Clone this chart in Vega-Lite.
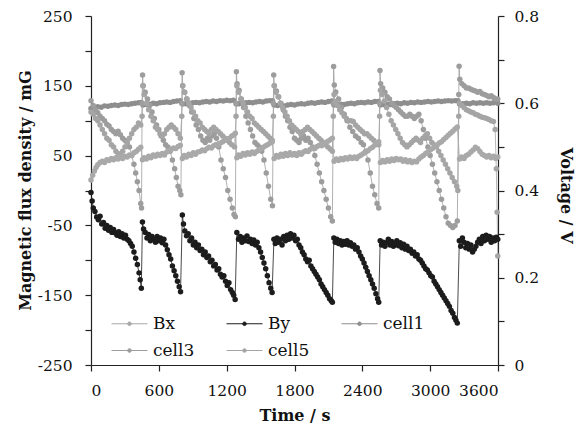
{
"$schema": "https://vega.github.io/schema/vega-lite/v6.json",
"width": 407, "height": 349,
"autosize": {"type": "none"},
"padding": {"left": 91, "top": 16, "right": 84, "bottom": 58},
"config": {
  "view": {"stroke": null},
  "font": "DejaVu Serif",
  "axis": {"grid": false, "domainColor": "#222", "tickColor": "#222", "labelColor": "#111", "titleColor": "#111",
    "labelFont": "DejaVu Serif", "titleFont": "DejaVu Serif", "labelFontSize": 15.5, "titleFontSize": 16, "titleFontWeight": "bold",
    "tickSize": 6, "domainWidth": 1.2, "tickWidth": 1.2},
  "legend": {"labelFont": "DejaVu Serif", "labelFontSize": 17, "labelColor": "#111"}
},
"datasets": {
"Bx": [{"t":0,"v":15},{"t":15,"v":22},{"t":30,"v":28},{"t":45,"v":33},{"t":60,"v":37},{"t":80,"v":40},{"t":100,"v":42},{"t":120,"v":40},{"t":140,"v":44},{"t":160,"v":43},{"t":180,"v":46},{"t":200,"v":44},{"t":220,"v":47},{"t":240,"v":45},{"t":260,"v":48},{"t":280,"v":46},{"t":300,"v":49},{"t":320,"v":48},{"t":340,"v":51},{"t":360,"v":50},{"t":380,"v":54},{"t":400,"v":56},{"t":420,"v":59},{"t":440,"v":62},
{"t":455,"v":44},{"t":470,"v":47},{"t":490,"v":45},{"t":510,"v":49},{"t":530,"v":47},{"t":550,"v":51},{"t":570,"v":49},{"t":590,"v":52},{"t":610,"v":50},{"t":630,"v":53},{"t":650,"v":51},{"t":670,"v":55},{"t":690,"v":57},{"t":710,"v":59},{"t":730,"v":61},{"t":750,"v":60},{"t":770,"v":63},{"t":790,"v":65},
{"t":808,"v":46},{"t":825,"v":50},{"t":845,"v":48},{"t":865,"v":52},{"t":885,"v":50},{"t":905,"v":54},{"t":925,"v":52},{"t":945,"v":55},{"t":965,"v":56},{"t":985,"v":58},{"t":1005,"v":57},{"t":1025,"v":60},{"t":1045,"v":62},{"t":1065,"v":61},{"t":1085,"v":64},{"t":1105,"v":66},{"t":1125,"v":65},{"t":1145,"v":68},{"t":1165,"v":70},{"t":1185,"v":72},{"t":1205,"v":74},{"t":1225,"v":75},{"t":1245,"v":78},{"t":1265,"v":80},{"t":1277,"v":82},
{"t":1290,"v":47},{"t":1305,"v":51},{"t":1325,"v":49},{"t":1345,"v":53},{"t":1365,"v":51},{"t":1385,"v":54},{"t":1405,"v":52},{"t":1425,"v":55},{"t":1445,"v":53},{"t":1465,"v":56},{"t":1485,"v":58},{"t":1505,"v":60},{"t":1525,"v":62},{"t":1545,"v":64},{"t":1565,"v":66},{"t":1585,"v":68},{"t":1603,"v":70},
{"t":1620,"v":46},{"t":1640,"v":50},{"t":1660,"v":48},{"t":1680,"v":52},{"t":1700,"v":49},{"t":1720,"v":53},{"t":1740,"v":50},{"t":1760,"v":54},{"t":1780,"v":51},{"t":1800,"v":53},{"t":1820,"v":50},{"t":1840,"v":54},{"t":1860,"v":52},{"t":1880,"v":55},{"t":1900,"v":57},{"t":1920,"v":56},{"t":1940,"v":59},{"t":1960,"v":61},{"t":1980,"v":60},{"t":2000,"v":63},{"t":2020,"v":65},{"t":2040,"v":64},{"t":2060,"v":67},{"t":2080,"v":69},{"t":2100,"v":71},{"t":2120,"v":73},{"t":2135,"v":75},
{"t":2150,"v":42},{"t":2170,"v":45},{"t":2190,"v":43},{"t":2210,"v":46},{"t":2230,"v":44},{"t":2250,"v":47},{"t":2270,"v":45},{"t":2290,"v":48},{"t":2310,"v":46},{"t":2330,"v":48},{"t":2350,"v":46},{"t":2370,"v":49},{"t":2390,"v":51},{"t":2410,"v":53},{"t":2430,"v":55},{"t":2450,"v":57},{"t":2470,"v":60},{"t":2490,"v":62},{"t":2510,"v":65},{"t":2530,"v":68},{"t":2545,"v":70},
{"t":2560,"v":40},{"t":2580,"v":43},{"t":2600,"v":41},{"t":2620,"v":44},{"t":2640,"v":42},{"t":2660,"v":45},{"t":2680,"v":43},{"t":2700,"v":46},{"t":2720,"v":44},{"t":2740,"v":45},{"t":2760,"v":42},{"t":2780,"v":44},{"t":2800,"v":41},{"t":2820,"v":43},{"t":2840,"v":40},{"t":2860,"v":42},{"t":2880,"v":41},{"t":2900,"v":45},{"t":2920,"v":48},{"t":2940,"v":50},{"t":2960,"v":53},{"t":2980,"v":55},{"t":3000,"v":58},{"t":3020,"v":60},{"t":3040,"v":63},{"t":3060,"v":65},{"t":3080,"v":68},{"t":3100,"v":70},{"t":3120,"v":73},{"t":3140,"v":76},{"t":3160,"v":79},{"t":3180,"v":82},{"t":3200,"v":85},{"t":3220,"v":88},{"t":3240,"v":91},
{"t":3260,"v":45},{"t":3280,"v":48},{"t":3300,"v":46},{"t":3320,"v":50},{"t":3340,"v":52},{"t":3360,"v":55},{"t":3380,"v":58},{"t":3400,"v":62},{"t":3420,"v":60},{"t":3440,"v":56},{"t":3460,"v":52},{"t":3480,"v":50},{"t":3500,"v":48},{"t":3520,"v":50},{"t":3540,"v":47},{"t":3560,"v":49},{"t":3580,"v":46},{"t":3598,"v":48}],
"By": [{"t":0,"v":-3},{"t":10,"v":-15},{"t":20,"v":-25},{"t":35,"v":-30},{"t":50,"v":-38},{"t":65,"v":-42},{"t":80,"v":-37},{"t":95,"v":-48},{"t":110,"v":-46},{"t":125,"v":-54},{"t":140,"v":-50},{"t":155,"v":-57},{"t":170,"v":-53},{"t":185,"v":-60},{"t":200,"v":-56},{"t":215,"v":-61},{"t":230,"v":-64},{"t":245,"v":-59},{"t":260,"v":-66},{"t":275,"v":-62},{"t":290,"v":-68},{"t":305,"v":-64},{"t":320,"v":-70},{"t":335,"v":-72},{"t":350,"v":-76},{"t":365,"v":-80},{"t":380,"v":-88},{"t":395,"v":-97},{"t":410,"v":-106},{"t":425,"v":-118},{"t":435,"v":-128},{"t":445,"v":-140},
{"t":455,"v":-45},{"t":465,"v":-55},{"t":480,"v":-60},{"t":495,"v":-68},{"t":510,"v":-63},{"t":525,"v":-72},{"t":540,"v":-66},{"t":555,"v":-70},{"t":570,"v":-74},{"t":585,"v":-66},{"t":600,"v":-72},{"t":615,"v":-68},{"t":630,"v":-75},{"t":645,"v":-70},{"t":660,"v":-78},{"t":675,"v":-85},{"t":690,"v":-92},{"t":705,"v":-98},{"t":720,"v":-108},{"t":735,"v":-115},{"t":750,"v":-122},{"t":765,"v":-130},{"t":780,"v":-138},{"t":792,"v":-145},
{"t":808,"v":-35},{"t":818,"v":-48},{"t":830,"v":-58},{"t":845,"v":-65},{"t":860,"v":-62},{"t":875,"v":-72},{"t":890,"v":-68},{"t":905,"v":-78},{"t":920,"v":-74},{"t":935,"v":-82},{"t":950,"v":-78},{"t":965,"v":-86},{"t":980,"v":-84},{"t":995,"v":-92},{"t":1010,"v":-88},{"t":1025,"v":-96},{"t":1040,"v":-94},{"t":1055,"v":-102},{"t":1070,"v":-100},{"t":1085,"v":-108},{"t":1100,"v":-106},{"t":1115,"v":-114},{"t":1130,"v":-112},{"t":1145,"v":-120},{"t":1160,"v":-124},{"t":1175,"v":-122},{"t":1190,"v":-130},{"t":1205,"v":-136},{"t":1220,"v":-132},{"t":1235,"v":-142},{"t":1250,"v":-146},{"t":1262,"v":-150},{"t":1275,"v":-156},
{"t":1290,"v":-60},{"t":1305,"v":-70},{"t":1320,"v":-66},{"t":1335,"v":-74},{"t":1350,"v":-68},{"t":1365,"v":-72},{"t":1380,"v":-65},{"t":1395,"v":-73},{"t":1410,"v":-70},{"t":1425,"v":-76},{"t":1440,"v":-71},{"t":1455,"v":-78},{"t":1470,"v":-74},{"t":1485,"v":-82},{"t":1500,"v":-88},{"t":1515,"v":-96},{"t":1530,"v":-104},{"t":1545,"v":-112},{"t":1560,"v":-122},{"t":1575,"v":-132},{"t":1590,"v":-140},{"t":1602,"v":-146},
{"t":1618,"v":-70},{"t":1630,"v":-76},{"t":1645,"v":-68},{"t":1660,"v":-74},{"t":1675,"v":-70},{"t":1690,"v":-78},{"t":1705,"v":-66},{"t":1720,"v":-72},{"t":1735,"v":-64},{"t":1750,"v":-70},{"t":1765,"v":-62},{"t":1780,"v":-68},{"t":1795,"v":-64},{"t":1810,"v":-72},{"t":1825,"v":-70},{"t":1840,"v":-78},{"t":1855,"v":-82},{"t":1870,"v":-88},{"t":1885,"v":-92},{"t":1900,"v":-98},{"t":1915,"v":-102},{"t":1930,"v":-100},{"t":1945,"v":-108},{"t":1960,"v":-112},{"t":1975,"v":-116},{"t":1990,"v":-120},{"t":2005,"v":-124},{"t":2020,"v":-128},{"t":2035,"v":-134},{"t":2050,"v":-138},{"t":2065,"v":-142},{"t":2080,"v":-146},{"t":2095,"v":-150},{"t":2110,"v":-155},{"t":2125,"v":-158},{"t":2135,"v":-160},
{"t":2148,"v":-68},{"t":2160,"v":-74},{"t":2175,"v":-70},{"t":2190,"v":-76},{"t":2205,"v":-72},{"t":2220,"v":-78},{"t":2235,"v":-73},{"t":2250,"v":-77},{"t":2265,"v":-72},{"t":2280,"v":-78},{"t":2295,"v":-75},{"t":2310,"v":-80},{"t":2325,"v":-78},{"t":2340,"v":-84},{"t":2355,"v":-82},{"t":2370,"v":-88},{"t":2385,"v":-94},{"t":2400,"v":-98},{"t":2415,"v":-104},{"t":2430,"v":-110},{"t":2445,"v":-116},{"t":2460,"v":-122},{"t":2475,"v":-128},{"t":2490,"v":-134},{"t":2505,"v":-140},{"t":2520,"v":-148},{"t":2535,"v":-155},{"t":2545,"v":-160},
{"t":2558,"v":-72},{"t":2570,"v":-78},{"t":2585,"v":-74},{"t":2600,"v":-80},{"t":2615,"v":-75},{"t":2630,"v":-70},{"t":2645,"v":-78},{"t":2660,"v":-73},{"t":2675,"v":-80},{"t":2690,"v":-76},{"t":2705,"v":-72},{"t":2720,"v":-79},{"t":2735,"v":-75},{"t":2750,"v":-82},{"t":2765,"v":-77},{"t":2780,"v":-84},{"t":2795,"v":-80},{"t":2810,"v":-86},{"t":2825,"v":-84},{"t":2840,"v":-90},{"t":2855,"v":-88},{"t":2870,"v":-94},{"t":2885,"v":-92},{"t":2900,"v":-98},{"t":2915,"v":-100},{"t":2930,"v":-104},{"t":2945,"v":-108},{"t":2960,"v":-112},{"t":2975,"v":-114},{"t":2990,"v":-118},{"t":3005,"v":-122},{"t":3020,"v":-124},{"t":3035,"v":-130},{"t":3050,"v":-134},{"t":3065,"v":-138},{"t":3080,"v":-142},{"t":3095,"v":-146},{"t":3110,"v":-150},{"t":3125,"v":-154},{"t":3140,"v":-158},{"t":3155,"v":-162},{"t":3170,"v":-166},{"t":3185,"v":-172},{"t":3200,"v":-176},{"t":3215,"v":-182},{"t":3228,"v":-186},{"t":3240,"v":-190},
{"t":3258,"v":-72},{"t":3270,"v":-80},{"t":3285,"v":-68},{"t":3300,"v":-74},{"t":3315,"v":-82},{"t":3330,"v":-76},{"t":3345,"v":-84},{"t":3360,"v":-78},{"t":3375,"v":-88},{"t":3390,"v":-84},{"t":3405,"v":-80},{"t":3420,"v":-74},{"t":3435,"v":-70},{"t":3450,"v":-76},{"t":3465,"v":-66},{"t":3480,"v":-72},{"t":3495,"v":-64},{"t":3510,"v":-70},{"t":3525,"v":-66},{"t":3540,"v":-74},{"t":3555,"v":-68},{"t":3570,"v":-72},{"t":3585,"v":-67},{"t":3598,"v":-70}],
"cell1": [{"t":0,"v":0.588},{"t":30,"v":0.59},{"t":60,"v":0.592},{"t":90,"v":0.591},{"t":120,"v":0.594},{"t":150,"v":0.593},{"t":180,"v":0.595},{"t":210,"v":0.596},{"t":240,"v":0.595},{"t":270,"v":0.597},{"t":300,"v":0.598},{"t":330,"v":0.597},{"t":360,"v":0.599},{"t":390,"v":0.6},{"t":420,"v":0.601},{"t":445,"v":0.602},{"t":460,"v":0.596},{"t":490,"v":0.597},{"t":520,"v":0.598},{"t":550,"v":0.6},{"t":580,"v":0.599},{"t":610,"v":0.601},{"t":640,"v":0.602},{"t":670,"v":0.603},{"t":700,"v":0.602},{"t":730,"v":0.604},{"t":760,"v":0.605},{"t":790,"v":0.606},{"t":810,"v":0.598},{"t":840,"v":0.599},{"t":870,"v":0.6},{"t":900,"v":0.601},{"t":930,"v":0.602},{"t":960,"v":0.601},{"t":990,"v":0.603},{"t":1020,"v":0.604},{"t":1050,"v":0.603},{"t":1080,"v":0.605},{"t":1110,"v":0.604},{"t":1140,"v":0.606},{"t":1170,"v":0.605},{"t":1200,"v":0.607},{"t":1230,"v":0.606},{"t":1260,"v":0.607},{"t":1285,"v":0.598},{"t":1310,"v":0.599},{"t":1340,"v":0.6},{"t":1370,"v":0.601},{"t":1400,"v":0.602},{"t":1430,"v":0.601},{"t":1460,"v":0.603},{"t":1490,"v":0.604},{"t":1520,"v":0.603},{"t":1550,"v":0.605},{"t":1580,"v":0.606},{"t":1605,"v":0.606},{"t":1620,"v":0.596},{"t":1650,"v":0.595},{"t":1680,"v":0.596},{"t":1710,"v":0.594},{"t":1740,"v":0.596},{"t":1770,"v":0.597},{"t":1800,"v":0.596},{"t":1830,"v":0.598},{"t":1860,"v":0.599},{"t":1890,"v":0.598},{"t":1920,"v":0.6},{"t":1950,"v":0.601},{"t":1980,"v":0.6},{"t":2010,"v":0.602},{"t":2040,"v":0.603},{"t":2070,"v":0.602},{"t":2100,"v":0.604},{"t":2130,"v":0.605},{"t":2150,"v":0.596},{"t":2180,"v":0.597},{"t":2210,"v":0.598},{"t":2240,"v":0.597},{"t":2270,"v":0.599},{"t":2300,"v":0.6},{"t":2330,"v":0.599},{"t":2360,"v":0.601},{"t":2390,"v":0.602},{"t":2420,"v":0.601},{"t":2450,"v":0.603},{"t":2480,"v":0.602},{"t":2510,"v":0.604},{"t":2540,"v":0.604},{"t":2560,"v":0.596},{"t":2590,"v":0.597},{"t":2620,"v":0.598},{"t":2650,"v":0.597},{"t":2680,"v":0.599},{"t":2710,"v":0.6},{"t":2740,"v":0.599},{"t":2770,"v":0.601},{"t":2800,"v":0.6},{"t":2830,"v":0.602},{"t":2860,"v":0.601},{"t":2890,"v":0.603},{"t":2920,"v":0.602},{"t":2950,"v":0.603},{"t":2980,"v":0.604},{"t":3010,"v":0.603},{"t":3040,"v":0.604},{"t":3070,"v":0.605},{"t":3100,"v":0.604},{"t":3130,"v":0.605},{"t":3160,"v":0.606},{"t":3190,"v":0.605},{"t":3220,"v":0.606},{"t":3245,"v":0.606},{"t":3260,"v":0.598},{"t":3290,"v":0.599},{"t":3320,"v":0.6},{"t":3350,"v":0.599},{"t":3380,"v":0.601},{"t":3410,"v":0.6},{"t":3440,"v":0.601},{"t":3470,"v":0.6},{"t":3500,"v":0.601},{"t":3530,"v":0.6},{"t":3560,"v":0.601},{"t":3598,"v":0.6}],
"cell3": [{"t":0,"v":0.606},{"t":20,"v":0.595},{"t":40,"v":0.585},{"t":60,"v":0.578},{"t":80,"v":0.57},{"t":100,"v":0.565},{"t":120,"v":0.56},{"t":140,"v":0.552},{"t":160,"v":0.548},{"t":180,"v":0.54},{"t":200,"v":0.535},{"t":220,"v":0.53},{"t":240,"v":0.536},{"t":260,"v":0.528},{"t":280,"v":0.52},{"t":300,"v":0.515},{"t":320,"v":0.51},{"t":340,"v":0.5},{"t":360,"v":0.48},{"t":380,"v":0.46},{"t":395,"v":0.44},{"t":410,"v":0.42},{"t":425,"v":0.4},{"t":440,"v":0.37},{"t":447,"v":0.36},
{"t":452,"v":0.6},{"t":456,"v":0.665},{"t":462,"v":0.64},{"t":480,"v":0.625},{"t":500,"v":0.61},{"t":520,"v":0.595},{"t":540,"v":0.58},{"t":560,"v":0.565},{"t":580,"v":0.55},{"t":600,"v":0.54},{"t":620,"v":0.525},{"t":640,"v":0.515},{"t":660,"v":0.505},{"t":680,"v":0.5},{"t":700,"v":0.49},{"t":720,"v":0.47},{"t":740,"v":0.45},{"t":755,"v":0.43},{"t":770,"v":0.41},{"t":785,"v":0.4},{"t":795,"v":0.39},
{"t":803,"v":0.6},{"t":806,"v":0.67},{"t":812,"v":0.64},{"t":830,"v":0.625},{"t":850,"v":0.61},{"t":870,"v":0.595},{"t":890,"v":0.58},{"t":910,"v":0.565},{"t":930,"v":0.55},{"t":950,"v":0.54},{"t":970,"v":0.525},{"t":990,"v":0.515},{"t":1010,"v":0.51},{"t":1030,"v":0.52},{"t":1050,"v":0.515},{"t":1070,"v":0.525},{"t":1090,"v":0.53},{"t":1110,"v":0.52},{"t":1130,"v":0.5},{"t":1150,"v":0.47},{"t":1170,"v":0.45},{"t":1190,"v":0.43},{"t":1210,"v":0.4},{"t":1230,"v":0.38},{"t":1250,"v":0.36},{"t":1265,"v":0.345},{"t":1277,"v":0.34},
{"t":1283,"v":0.6},{"t":1286,"v":0.672},{"t":1292,"v":0.645},{"t":1310,"v":0.63},{"t":1330,"v":0.61},{"t":1350,"v":0.59},{"t":1370,"v":0.57},{"t":1390,"v":0.555},{"t":1410,"v":0.54},{"t":1430,"v":0.525},{"t":1450,"v":0.51},{"t":1470,"v":0.505},{"t":1490,"v":0.5},{"t":1510,"v":0.49},{"t":1530,"v":0.47},{"t":1550,"v":0.44},{"t":1570,"v":0.41},{"t":1590,"v":0.38},{"t":1605,"v":0.365},
{"t":1613,"v":0.6},{"t":1616,"v":0.665},{"t":1622,"v":0.64},{"t":1640,"v":0.628},{"t":1660,"v":0.615},{"t":1680,"v":0.6},{"t":1700,"v":0.585},{"t":1720,"v":0.57},{"t":1740,"v":0.56},{"t":1760,"v":0.545},{"t":1780,"v":0.535},{"t":1800,"v":0.52},{"t":1820,"v":0.515},{"t":1840,"v":0.51},{"t":1860,"v":0.52},{"t":1880,"v":0.525},{"t":1900,"v":0.515},{"t":1920,"v":0.52},{"t":1940,"v":0.51},{"t":1960,"v":0.5},{"t":1980,"v":0.48},{"t":2000,"v":0.46},{"t":2020,"v":0.44},{"t":2040,"v":0.42},{"t":2060,"v":0.4},{"t":2080,"v":0.38},{"t":2100,"v":0.36},{"t":2120,"v":0.34},{"t":2135,"v":0.33},
{"t":2143,"v":0.6},{"t":2146,"v":0.684},{"t":2152,"v":0.642},{"t":2165,"v":0.626},{"t":2190,"v":0.61},{"t":2215,"v":0.59},{"t":2240,"v":0.575},{"t":2265,"v":0.56},{"t":2290,"v":0.545},{"t":2315,"v":0.535},{"t":2340,"v":0.525},{"t":2365,"v":0.52},{"t":2390,"v":0.51},{"t":2410,"v":0.505},{"t":2430,"v":0.49},{"t":2450,"v":0.47},{"t":2470,"v":0.44},{"t":2490,"v":0.41},{"t":2510,"v":0.39},{"t":2530,"v":0.37},{"t":2545,"v":0.36},
{"t":2553,"v":0.6},{"t":2556,"v":0.675},{"t":2562,"v":0.645},{"t":2580,"v":0.635},{"t":2600,"v":0.625},{"t":2620,"v":0.615},{"t":2640,"v":0.61},{"t":2660,"v":0.6},{"t":2680,"v":0.595},{"t":2700,"v":0.59},{"t":2720,"v":0.585},{"t":2740,"v":0.58},{"t":2760,"v":0.575},{"t":2780,"v":0.57},{"t":2800,"v":0.57},{"t":2820,"v":0.575},{"t":2840,"v":0.57},{"t":2860,"v":0.565},{"t":2880,"v":0.57},{"t":2900,"v":0.575},{"t":2920,"v":0.56},{"t":2940,"v":0.54},{"t":2960,"v":0.52},{"t":2980,"v":0.5},{"t":3000,"v":0.48},{"t":3020,"v":0.46},{"t":3040,"v":0.44},{"t":3060,"v":0.42},{"t":3080,"v":0.4},{"t":3100,"v":0.38},{"t":3120,"v":0.36},{"t":3140,"v":0.34},{"t":3160,"v":0.325},{"t":3180,"v":0.32},{"t":3200,"v":0.315},{"t":3220,"v":0.32},{"t":3240,"v":0.33},
{"t":3253,"v":0.62},{"t":3256,"v":0.685},{"t":3262,"v":0.655},{"t":3280,"v":0.645},{"t":3300,"v":0.64},{"t":3320,"v":0.635},{"t":3340,"v":0.635},{"t":3360,"v":0.632},{"t":3380,"v":0.63},{"t":3400,"v":0.628},{"t":3420,"v":0.625},{"t":3440,"v":0.627},{"t":3460,"v":0.622},{"t":3480,"v":0.62},{"t":3500,"v":0.618},{"t":3520,"v":0.615},{"t":3540,"v":0.617},{"t":3560,"v":0.613},{"t":3580,"v":0.61},{"t":3598,"v":0.61}],
"cell5": [{"t":0,"v":0.58},{"t":20,"v":0.575},{"t":40,"v":0.565},{"t":60,"v":0.56},{"t":80,"v":0.55},{"t":100,"v":0.54},{"t":120,"v":0.53},{"t":140,"v":0.52},{"t":160,"v":0.515},{"t":180,"v":0.505},{"t":200,"v":0.5},{"t":220,"v":0.49},{"t":240,"v":0.485},{"t":260,"v":0.48},{"t":280,"v":0.49},{"t":300,"v":0.5},{"t":320,"v":0.51},{"t":340,"v":0.52},{"t":360,"v":0.53},{"t":380,"v":0.54},{"t":400,"v":0.545},{"t":420,"v":0.555},{"t":440,"v":0.55},
{"t":452,"v":0.57},{"t":458,"v":0.64},{"t":470,"v":0.62},{"t":490,"v":0.6},{"t":510,"v":0.585},{"t":530,"v":0.57},{"t":550,"v":0.56},{"t":570,"v":0.545},{"t":590,"v":0.54},{"t":610,"v":0.53},{"t":630,"v":0.525},{"t":650,"v":0.53},{"t":670,"v":0.54},{"t":690,"v":0.545},{"t":710,"v":0.55},{"t":730,"v":0.545},{"t":750,"v":0.54},{"t":770,"v":0.53},{"t":790,"v":0.52},
{"t":803,"v":0.57},{"t":810,"v":0.64},{"t":825,"v":0.625},{"t":845,"v":0.61},{"t":865,"v":0.6},{"t":885,"v":0.59},{"t":905,"v":0.58},{"t":925,"v":0.57},{"t":945,"v":0.56},{"t":965,"v":0.555},{"t":985,"v":0.545},{"t":1005,"v":0.54},{"t":1025,"v":0.535},{"t":1045,"v":0.53},{"t":1065,"v":0.54},{"t":1085,"v":0.545},{"t":1105,"v":0.54},{"t":1125,"v":0.535},{"t":1145,"v":0.53},{"t":1165,"v":0.525},{"t":1185,"v":0.52},{"t":1205,"v":0.515},{"t":1225,"v":0.51},{"t":1245,"v":0.505},{"t":1270,"v":0.5},
{"t":1283,"v":0.57},{"t":1290,"v":0.64},{"t":1305,"v":0.625},{"t":1325,"v":0.61},{"t":1345,"v":0.6},{"t":1365,"v":0.59},{"t":1385,"v":0.58},{"t":1405,"v":0.57},{"t":1425,"v":0.565},{"t":1445,"v":0.555},{"t":1465,"v":0.55},{"t":1485,"v":0.545},{"t":1505,"v":0.54},{"t":1525,"v":0.535},{"t":1545,"v":0.53},{"t":1565,"v":0.525},{"t":1585,"v":0.52},{"t":1603,"v":0.515},
{"t":1613,"v":0.57},{"t":1620,"v":0.64},{"t":1635,"v":0.625},{"t":1655,"v":0.615},{"t":1675,"v":0.6},{"t":1695,"v":0.59},{"t":1715,"v":0.58},{"t":1735,"v":0.57},{"t":1755,"v":0.56},{"t":1775,"v":0.55},{"t":1795,"v":0.545},{"t":1815,"v":0.54},{"t":1835,"v":0.535},{"t":1855,"v":0.53},{"t":1875,"v":0.535},{"t":1895,"v":0.54},{"t":1915,"v":0.545},{"t":1935,"v":0.54},{"t":1955,"v":0.535},{"t":1975,"v":0.53},{"t":1995,"v":0.525},{"t":2015,"v":0.52},{"t":2035,"v":0.515},{"t":2055,"v":0.51},{"t":2075,"v":0.505},{"t":2095,"v":0.5},{"t":2115,"v":0.495},{"t":2135,"v":0.49},
{"t":2143,"v":0.57},{"t":2150,"v":0.62},{"t":2160,"v":0.604},{"t":2180,"v":0.595},{"t":2200,"v":0.585},{"t":2220,"v":0.578},{"t":2240,"v":0.57},{"t":2260,"v":0.565},{"t":2280,"v":0.56},{"t":2300,"v":0.56},{"t":2320,"v":0.558},{"t":2340,"v":0.55},{"t":2360,"v":0.545},{"t":2380,"v":0.54},{"t":2400,"v":0.535},{"t":2420,"v":0.53},{"t":2440,"v":0.53},{"t":2460,"v":0.525},{"t":2480,"v":0.52},{"t":2500,"v":0.515},{"t":2520,"v":0.51},{"t":2545,"v":0.505},
{"t":2553,"v":0.57},{"t":2560,"v":0.63},{"t":2575,"v":0.62},{"t":2595,"v":0.605},{"t":2615,"v":0.59},{"t":2635,"v":0.575},{"t":2655,"v":0.56},{"t":2675,"v":0.55},{"t":2695,"v":0.54},{"t":2715,"v":0.53},{"t":2735,"v":0.52},{"t":2755,"v":0.51},{"t":2775,"v":0.505},{"t":2795,"v":0.5},{"t":2815,"v":0.505},{"t":2835,"v":0.51},{"t":2855,"v":0.515},{"t":2875,"v":0.52},{"t":2895,"v":0.515},{"t":2915,"v":0.51},{"t":2935,"v":0.52},{"t":2955,"v":0.525},{"t":2975,"v":0.53},{"t":2995,"v":0.52},{"t":3015,"v":0.51},{"t":3035,"v":0.505},{"t":3055,"v":0.5},{"t":3075,"v":0.49},{"t":3095,"v":0.48},{"t":3115,"v":0.47},{"t":3135,"v":0.46},{"t":3155,"v":0.45},{"t":3175,"v":0.44},{"t":3195,"v":0.43},{"t":3215,"v":0.42},{"t":3235,"v":0.41},{"t":3245,"v":0.4},
{"t":3253,"v":0.57},{"t":3260,"v":0.6},{"t":3280,"v":0.595},{"t":3300,"v":0.59},{"t":3320,"v":0.585},{"t":3340,"v":0.583},{"t":3360,"v":0.58},{"t":3380,"v":0.578},{"t":3400,"v":0.575},{"t":3420,"v":0.573},{"t":3440,"v":0.57},{"t":3460,"v":0.568},{"t":3480,"v":0.567},{"t":3500,"v":0.565},{"t":3520,"v":0.563},{"t":3540,"v":0.56},{"t":3560,"v":0.558},{"t":3575,"v":0.54},{"t":3585,"v":0.45},{"t":3592,"v":0.35},{"t":3598,"v":0.25}]
},
"layer": [
  {
    "encoding": {
      "x": {"field": "t", "type": "quantitative", "scale": {"domain": [0, 3600], "nice": false},
        "axis": {"title": "Time / s", "values": [0,300,600,900,1200,1500,1800,2100,2400,2700,3000,3300,3600], "format": "d",
          "labelExpr": "datum.value % 600 === 0 ? datum.label : ''", "labelPadding": 12, "titleY": 42, "titleBaseline": "top"}},
      "y": {"field": "v", "type": "quantitative", "scale": {"domain": [0, 0.8], "nice": false},
        "axis": {"orient": "right", "title": "Voltage / V", "values": [0,0.1,0.2,0.3,0.4,0.5,0.6,0.7,0.8], "format": "~g",
          "labelExpr": "round(datum.value*10) % 2 === 0 ? datum.label : ''", "labelPadding": 10,
          "titleX": 59, "titleY": 179, "titleAngle": 90, "titleAlign": "center", "titleBaseline": "bottom"}}
    },
    "layer": [
      {"data": {"name": "cell1"}, "mark": {"type": "line", "strokeWidth": 0.8}, "encoding": {"color": {"datum": "cell1", "type": "nominal"}}},
      {"data": {"name": "cell1"}, "mark": {"type": "point", "filled": true, "size": 30, "opacity": 1}, "encoding": {"color": {"datum": "cell1", "type": "nominal"}}},
      {"data": {"name": "cell3"}, "mark": {"type": "line", "strokeWidth": 0.8}, "encoding": {"color": {"datum": "cell3", "type": "nominal"}}},
      {"data": {"name": "cell3"}, "mark": {"type": "point", "filled": true, "size": 30, "opacity": 1}, "encoding": {"color": {"datum": "cell3", "type": "nominal"}}},
      {"data": {"name": "cell5"}, "mark": {"type": "line", "strokeWidth": 0.8}, "encoding": {"color": {"datum": "cell5", "type": "nominal"}}},
      {"data": {"name": "cell5"}, "mark": {"type": "point", "filled": true, "size": 30, "opacity": 1}, "encoding": {"color": {"datum": "cell5", "type": "nominal"}}}
    ]
  },
  {
    "encoding": {
      "x": {"field": "t", "type": "quantitative", "scale": {"domain": [0, 3600], "nice": false}},
      "y": {"field": "v", "type": "quantitative", "scale": {"domain": [-250, 250], "nice": false},
        "axis": {"orient": "left", "title": "Magnetic flux density / mG", "values": [-250,-200,-150,-100,-50,0,50,100,150,200,250],
          "labelExpr": "(datum.value + 250) % 100 === 0 ? replace(datum.label, '\u2212', '-') : ''", "labelPadding": 13,
          "titleX": -58, "titleY": 174, "titleAngle": -90, "titleAlign": "center", "titleBaseline": "bottom"}},
      "color": {"type": "nominal", "scale": {"domain": ["Bx", "By", "cell1", "cell3", "cell5"], "range": ["#a9a9a9", "#1c1c1c", "#8e8e8e", "#9d9d9d", "#a5a5a5"]},
        "legend": {"title": null, "orient": "none", "direction": "horizontal", "legendX": 20, "legendY": 289, "columns": 3, "columnPadding": 29, "rowPadding": -13,
          "symbolType": "M-1,0L1,0M-0.1,0A0.1,0.1,0,1,1,0.1,0A0.1,0.1,0,1,1,-0.1,0Z", "symbolSize": 1296, "symbolStrokeWidth": 1, "labelOffset": 5}}
    },
    "layer": [
      {"data": {"name": "Bx"}, "mark": {"type": "line", "strokeWidth": 0.8}, "encoding": {"color": {"datum": "Bx", "type": "nominal"}}},
      {"data": {"name": "Bx"}, "mark": {"type": "point", "filled": true, "size": 30, "opacity": 1}, "encoding": {"color": {"datum": "Bx", "type": "nominal"}}},
      {"data": {"name": "By"}, "mark": {"type": "line", "strokeWidth": 0.8}, "encoding": {"color": {"datum": "By", "type": "nominal"}}},
      {"data": {"name": "By"}, "mark": {"type": "point", "filled": true, "size": 30, "opacity": 1}, "encoding": {"color": {"datum": "By", "type": "nominal"}}}
    ]
  }
],
"resolve": {"scale": {"y": "independent"}}
}
